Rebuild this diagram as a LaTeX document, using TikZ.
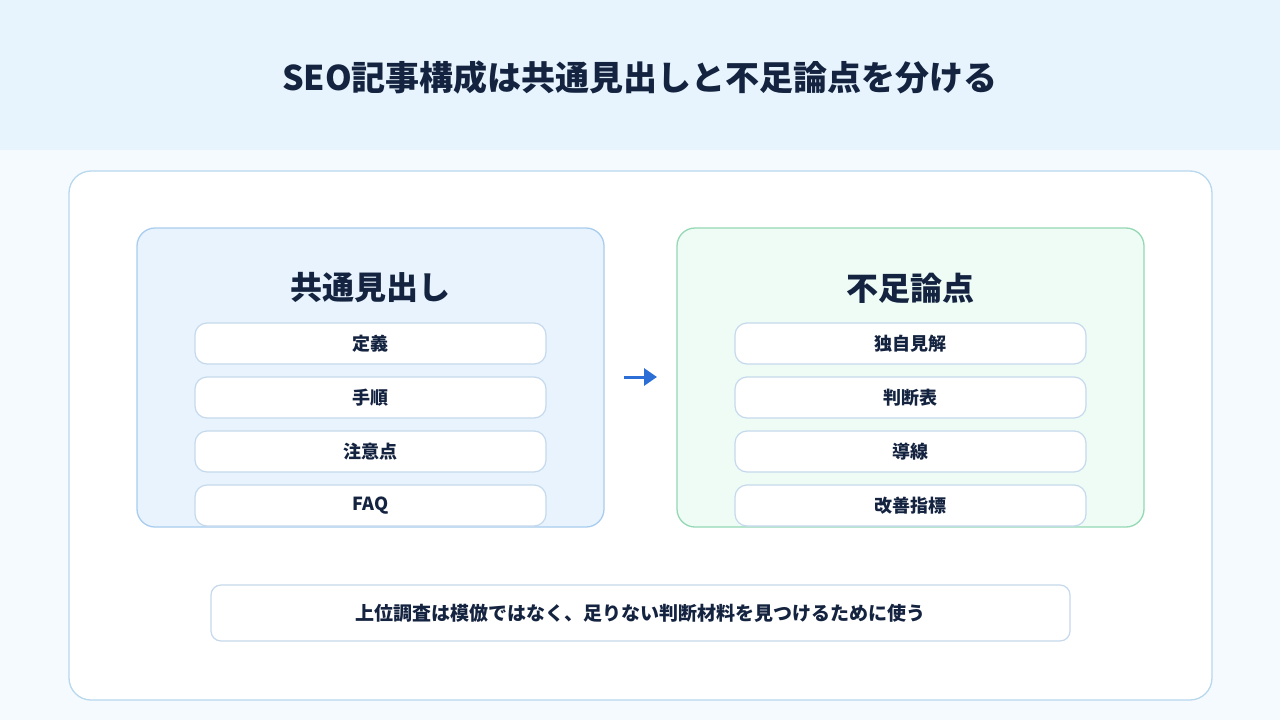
\documentclass[tikz,border=0pt]{standalone}
\usepackage{fontspec}
\setmainfont{Noto Sans CJK JP}
\usetikzlibrary{arrows.meta}
\definecolor{hdr}{HTML}{E8F4FD}
\definecolor{bg}{HTML}{F5FAFE}
\definecolor{pnl}{HTML}{B8D8EE}
\definecolor{lf}{HTML}{E8F3FD}
\definecolor{lb}{HTML}{A9CDEE}
\definecolor{rf}{HTML}{EEFCF5}
\definecolor{rb}{HTML}{94D8B4}
\definecolor{ib}{HTML}{C5D9EC}
\definecolor{ink}{HTML}{14233F}
\definecolor{arr}{HTML}{2B6FD6}
\tikzset{
 itembox/.style={draw=ib,line width=1.2pt,fill=white,rounded corners=12pt,minimum width=351pt,minimum height=41pt,font=\fontsize{18}{20}\selectfont\bfseries,text=ink,inner sep=0pt},
 grp/.style={line width=1.3pt,rounded corners=18pt},
 gtitle/.style={font=\fontsize{32}{36}\selectfont\bfseries,text=ink}
}
\begin{document}
\begin{tikzpicture}[x=1pt,y=-1pt]
\useasboundingbox (0,0) rectangle (1280,720);
\fill[bg] (0,0) rectangle (1280,720);
\fill[hdr] (0,0) rectangle (1280,150);
\node[font=\fontsize{34}{40}\selectfont\bfseries,text=ink] (title) at (640,78) {SEO記事構成は共通見出しと不足論点を分ける};
\draw[pnl,fill=white,line width=1.3pt,rounded corners=22pt] (69,171) rectangle (1212,700);
\draw[grp,draw=lb,fill=lf] (137,228) rectangle (604,527);
\draw[grp,draw=rb,fill=rf] (677,228) rectangle (1144,527);
\node[gtitle] (lt) at (370.5,288) {共通見出し};
\node[gtitle] (rt) at (910.5,288) {不足論点};
\node[itembox] (l1) at (370.5,343.5) {定義};
\node[itembox] (l2) at (370.5,397.5) {手順};
\node[itembox] (l3) at (370.5,451.5) {注意点};
\node[itembox] (l4) at (370.5,505.5) {FAQ};
\node[itembox] (r1) at (910.5,343.5) {独自見解};
\node[itembox] (r2) at (910.5,397.5) {判断表};
\node[itembox] (r3) at (910.5,451.5) {導線};
\node[itembox] (r4) at (910.5,505.5) {改善指標};
\coordinate (a1) at (624,377);
\coordinate (a2) at (657,377);
\draw[arr,line width=3pt,-{Triangle[length=13pt,width=17pt]}] (a1) -- (a2);
\node[draw=ib,line width=1.2pt,fill=white,rounded corners=10pt,minimum width=859pt,minimum height=56pt,font=\fontsize{19}{22}\selectfont\bfseries,text=ink] (note) at (640.5,613) {上位調査は模倣ではなく、足りない判断材料を見つけるために使う};
\end{tikzpicture}
\end{document}
